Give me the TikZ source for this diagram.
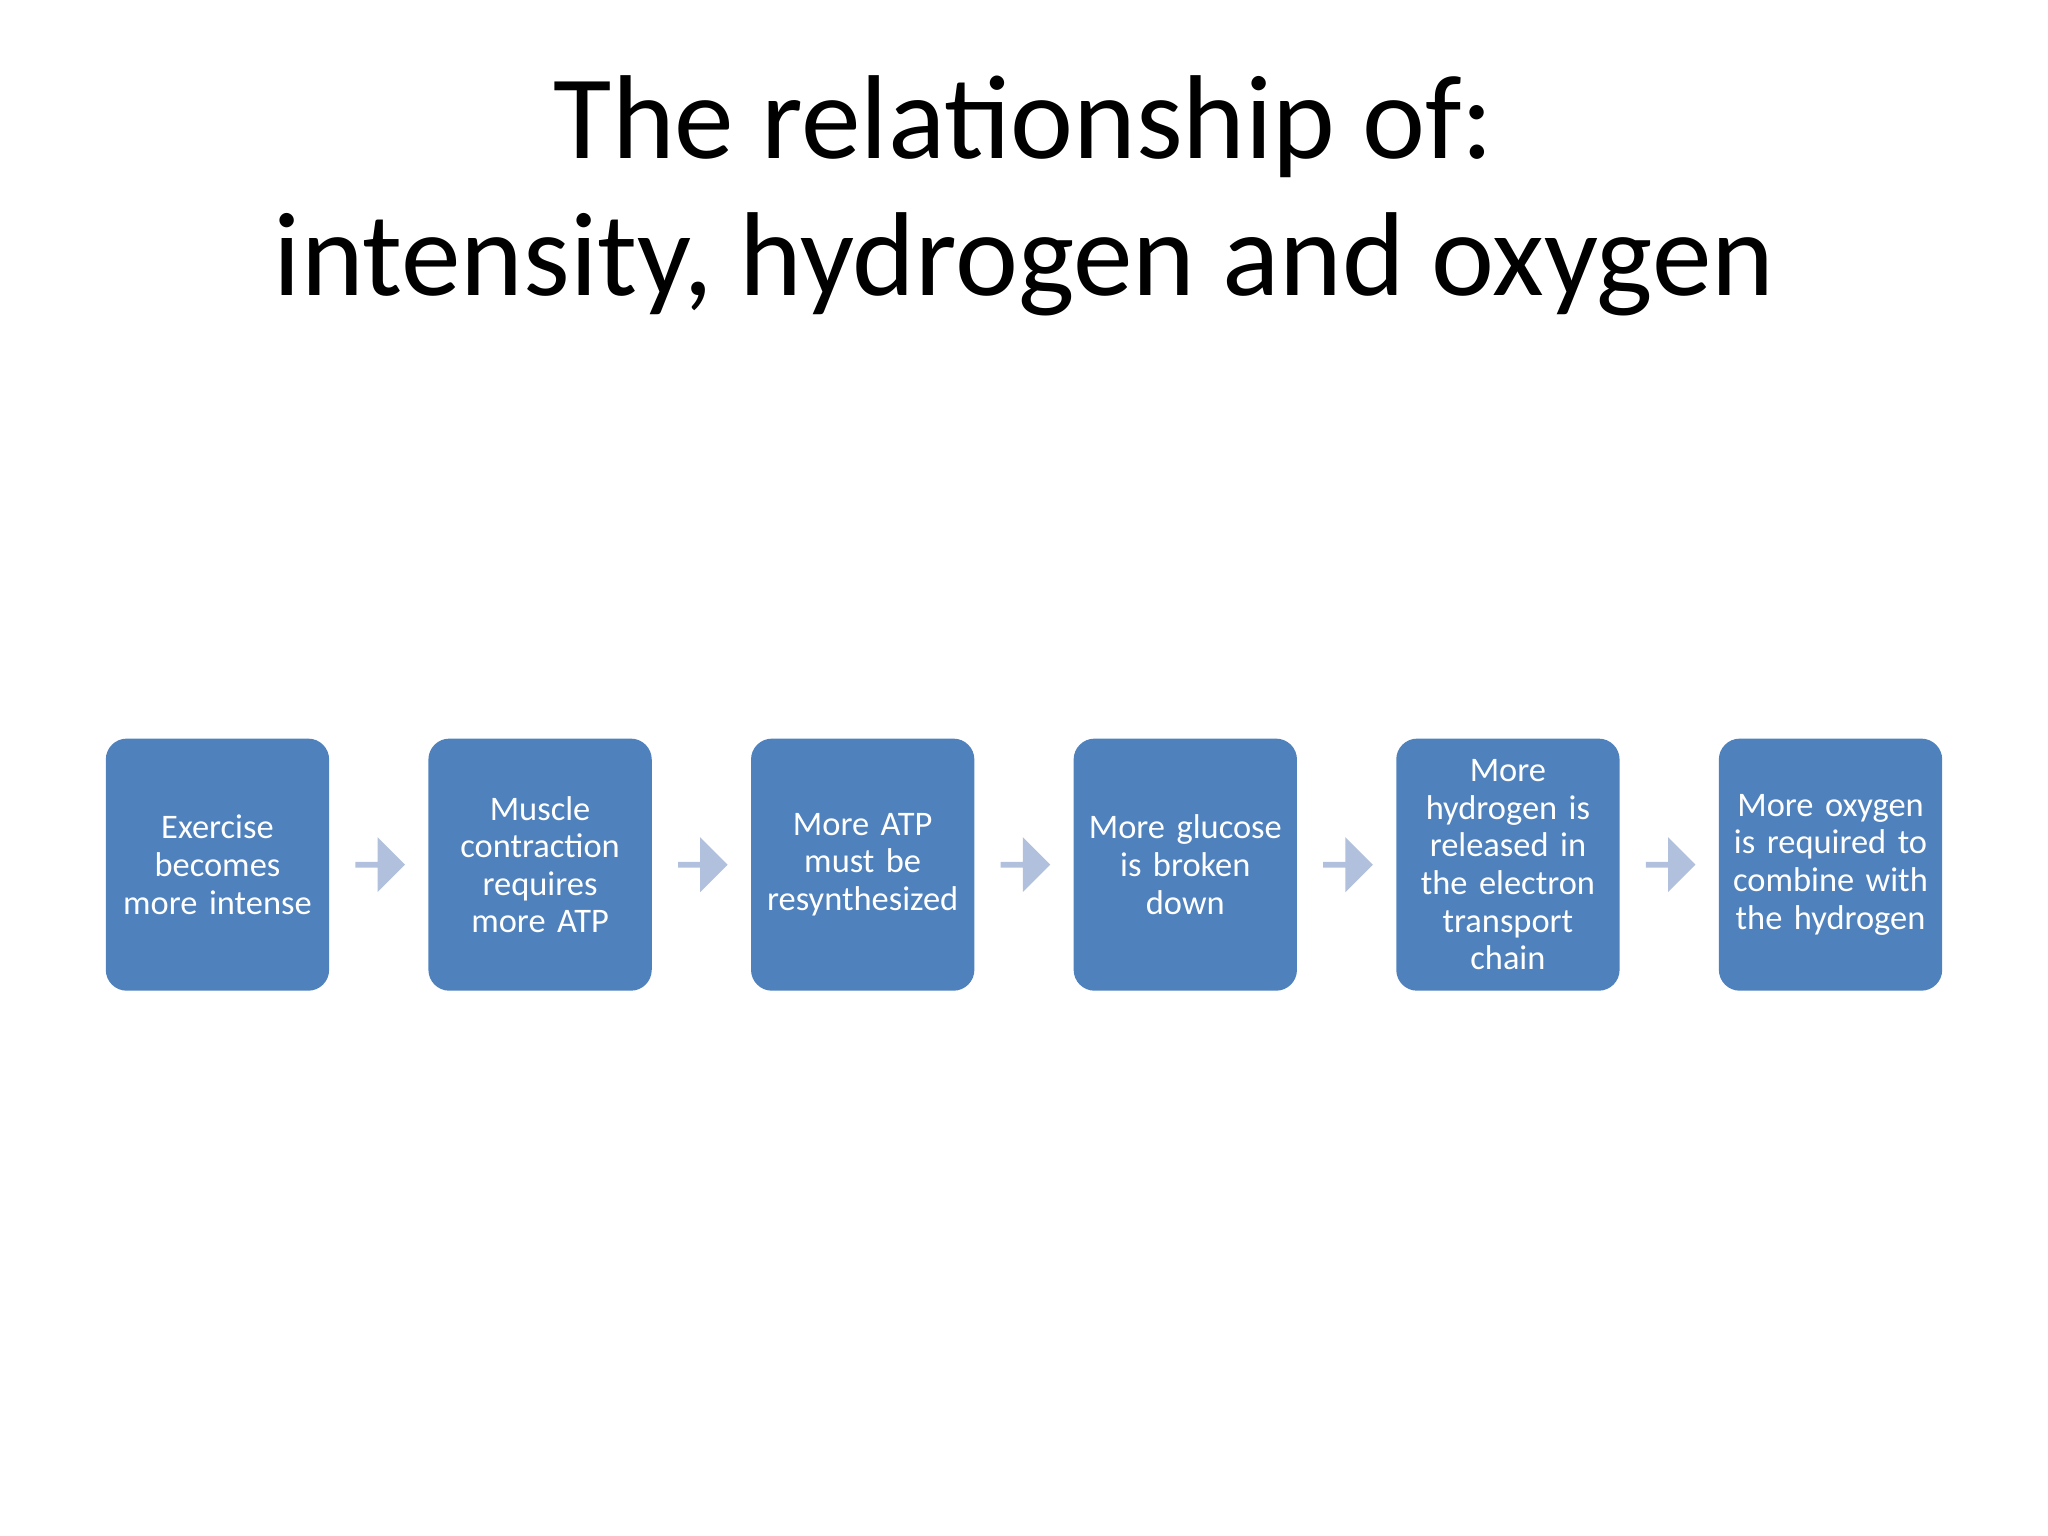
\documentclass[tikz,border=0pt]{standalone}
\usepackage{fontspec}
\setmainfont{Carlito}
\usetikzlibrary{shapes.arrows,calc}
\definecolor{boxblue}{HTML}{4F81BD}
\definecolor{arrowblue}{HTML}{B1C0DD}
\tikzset{
  stepbox/.style={fill=boxblue, rounded corners=1.6mm, minimum width=17.1mm, minimum height=19.3mm, text width=15.6mm, align=center, text=white, font=\fontsize{7.5}{8.2}\selectfont, inner sep=0pt},
  flowarrow/.style={single arrow, fill=arrowblue, minimum height=3.8mm, minimum width=4.2mm, single arrow head extend=0.6mm, inner sep=0pt, single arrow tip angle=90}
}
\begin{document}
\begin{tikzpicture}[x=0.1mm,y=-0.1mm]
\useasboundingbox (0,0) rectangle (1568,1176);
\node[font=\fontsize{26}{30}\selectfont, align=center] (title) at (784,150) {The relationship of:\\intensity, hydrogen and oxygen};
\node[stepbox] (b1) at (166.5,662) {Exercise becomes more intense};
\node[stepbox] (b2) at (413.5,662) {Muscle contraction requires more ATP};
\node[stepbox] (b3) at (660.5,662) {More ATP must be resynthesized};
\node[stepbox] (b4) at (907.5,662) {More glucose is broken down};
\node[stepbox] (b5) at (1154.5,662) {More hydrogen is released in the electron transport chain};
\node[stepbox] (b6) at (1401.5,662) {More oxygen is required to combine with the hydrogen};
\foreach \a/\b [count=\i] in {b1/b2,b2/b3,b3/b4,b4/b5,b5/b6}
  \node[flowarrow] (ar\i) at ($(\a)!0.5!(\b)$) {};
\end{tikzpicture}
\end{document}
